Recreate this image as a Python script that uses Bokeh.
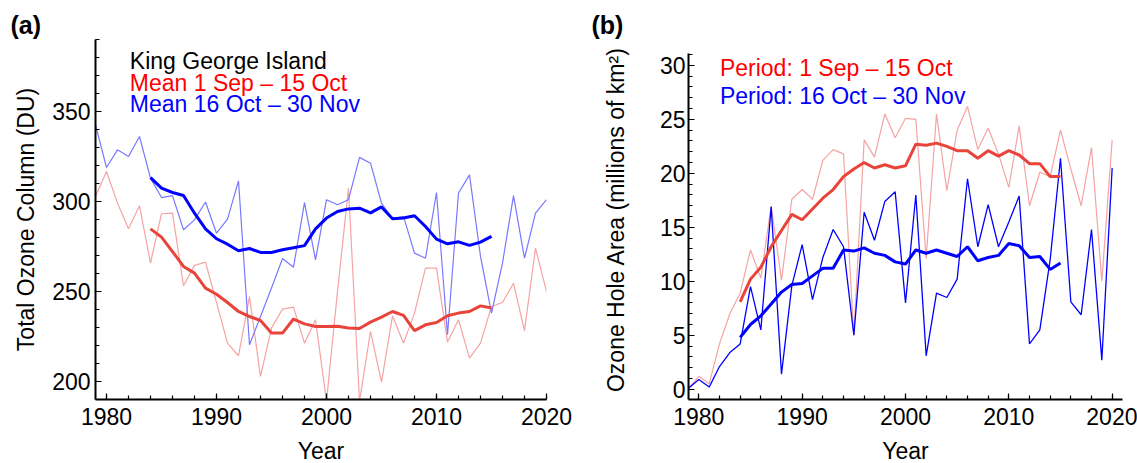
from bokeh.plotting import figure
from bokeh.layouts import row
from bokeh.models import Range1d, FixedTicker, Label
from bokeh.embed import file_html
from bokeh.resources import INLINE

# ---------------- data ----------------
years_all = list(range(1979, 2021))
years_mean = list(range(1984, 2016))

# Panel (a): King George Island total ozone (DU)
ozone_sep_oct = [302.8, 316.7, 299.1, 284.8, 297.6, 265.8, 293.2, 293.5, 253.2, 264.5,
                 266.3, 244.0, 221.3, 214.3, 247.2, 202.8, 229.7, 240.2, 241.3, 221.3,
                 234.3, 189.0, 250.0, 307.4, 189.0, 227.8, 199.7, 236.5, 221.3, 238.0,
                 263.0, 263.0, 221.9, 234.3, 213.0, 221.3, 241.7, 243.9, 254.6, 228.2,
                 274.1, 250.0]
ozone_oct_nov = [342.6, 318.9, 328.7, 325.0, 336.1, 313.0, 302.2, 303.3, 284.3, 289.8,
                 299.7, 282.4, 290.2, 311.5, 220.4, 236.1, 251.9, 268.3, 263.5, 299.4,
                 267.6, 301.0, 298.2, 301.0, 324.5, 321.3, 299.1, 290.4, 291.7, 271.3,
                 268.5, 305.0, 226.0, 304.7, 314.8, 269.5, 238.0, 265.8, 303.3, 268.5,
                 293.5, 301.0]
ozone_sep_oct_mean = [284.8, 280.2, 272.2, 263.9, 260.2, 251.9, 248.5, 243.9, 238.9, 236.1,
                      233.9, 226.9, 226.9, 234.7, 232.0, 230.6, 230.5, 230.7, 229.7, 229.4,
                      233.0, 235.8, 238.9, 236.7, 228.3, 231.5, 232.8, 236.5, 238.0, 238.9,
                      242.0, 240.8]
ozone_oct_nov_mean = [313.3, 307.4, 305.0, 303.3, 293.5, 284.8, 279.3, 276.3, 272.6, 273.9,
                      271.7, 271.7, 273.2, 274.3, 275.5, 284.8, 290.8, 294.4, 295.9, 296.3,
                      293.7, 297.0, 290.4, 290.8, 292.1, 286.1, 279.1, 276.5, 277.6, 275.6,
                      277.4, 280.6]

# Panel (b): ozone hole area (millions of km^2)
area_sep_oct = [0.1, 1.2, 0.5, 4.2, 7.0, 8.9, 12.9, 10.3, 17.0, 10.1,
                17.6, 18.5, 17.6, 21.2, 22.2, 21.8, 5.0, 23.1, 21.5, 25.5,
                23.3, 25.1, 25.0, 12.1, 25.5, 18.4, 24.0, 26.2, 22.2, 24.2,
                21.8, 18.7, 24.4, 17.0, 20.1, 19.7, 24.0, 20.4, 17.0, 22.4,
                10.0, 23.1]
area_oct_nov = [0.1, 0.9, 0.2, 2.1, 3.4, 4.2, 9.5, 5.5, 16.9, 1.4,
                9.6, 13.4, 8.3, 12.2, 14.8, 13.2, 5.0, 16.4, 13.8, 17.4,
                18.3, 8.0, 18.0, 3.1, 8.9, 8.5, 10.2, 19.5, 13.2, 17.1,
                13.2, 15.5, 17.9, 4.2, 5.5, 12.0, 21.4, 8.1, 6.9, 14.8,
                2.7, 20.5]
area_sep_oct_mean = [8.1, 10.2, 11.3, 13.2, 14.7, 16.2, 15.7, 16.7, 17.7, 18.5,
                     19.7, 20.4, 21.0, 20.5, 20.8, 20.5, 20.7, 22.7, 22.6, 22.8,
                     22.5, 22.1, 22.1, 21.4, 22.1, 21.6, 22.1, 21.7, 20.9, 20.9,
                     19.7, 19.7]
area_oct_nov_mean = [4.8, 6.0, 6.8, 7.9, 9.0, 9.7, 9.8, 10.5, 11.2, 11.2,
                     12.9, 12.8, 13.1, 12.6, 12.4, 11.8, 11.6, 12.9, 12.6, 12.9,
                     12.6, 12.3, 13.2, 11.9, 12.2, 12.4, 13.5, 13.3, 12.2, 12.3,
                     11.1, 11.7]

x_major = [1980, 1990, 2000, 2010, 2020]
x_minor = list(range(1980, 2022, 2))
ya_major = [200, 250, 300, 350]
ya_minor = list(range(190, 391, 10))
yb_major = [0, 5, 10, 15, 20, 25, 30]
yb_minor = list(range(0, 32))

FONT = "Liberation Sans"
FS = "23px"

RED_THIN = "#f5a3a3"
RED_THICK = "#e8443a"
BLUE_THIN_A = "#7878ff"
BLUE = "#0000ff"


def style(p, xt, yt, tag, tag_offset):
    p.toolbar_location = None
    p.outline_line_color = None
    p.xgrid.visible = False
    p.ygrid.visible = False
    p.background_fill_color = "white"
    p.border_fill_color = "white"
    p.xaxis.ticker = xt
    p.yaxis.ticker = yt
    for ax in (p.xaxis[0], p.yaxis[0]):
        ax.axis_line_color = "black"
        ax.axis_line_width = 2
        ax.major_tick_line_color = "black"
        ax.minor_tick_line_color = "black"
        ax.major_tick_line_width = 1.2
        ax.minor_tick_line_width = 1.2
        ax.major_tick_in = 6
        ax.major_tick_out = 0
        ax.minor_tick_in = 4
        ax.minor_tick_out = 0
        ax.major_label_text_font = FONT
        ax.major_label_text_font_size = FS
        ax.major_label_text_color = "black"
        ax.axis_label_text_font = FONT
        ax.axis_label_text_font_size = FS
        ax.axis_label_text_font_style = "normal"
        ax.axis_label_text_color = "black"
    p.xaxis.axis_label = "Year"
    p.xaxis.major_label_standoff = 8
    p.xaxis.axis_label_standoff = 10
    p.title.text = tag
    p.title.text_font = FONT
    p.title.text_font_size = "25px"
    p.title.text_font_style = "bold"
    p.title.text_color = "black"
    p.title.align = "left"
    p.title.offset = tag_offset
    p.title.standoff = 2


# ---------------- panel (a) ----------------
pa = figure(frame_width=451, frame_height=360, output_backend="svg", toolbar_location=None,
            x_range=Range1d(1979, 2020), y_range=Range1d(190, 390),
            min_border_left=95, min_border_right=34, min_border_top=39, min_border_bottom=64)
style(pa, FixedTicker(ticks=x_major, minor_ticks=x_minor),
      FixedTicker(ticks=ya_major, minor_ticks=ya_minor), "(a)", -85)
pa.yaxis.axis_label = "Total Ozone Column (DU)"
pa.yaxis.major_label_standoff = 5
pa.yaxis.axis_label_standoff = 10

pa.line(years_all, ozone_sep_oct, line_color=RED_THIN, line_width=1.2)
pa.line(years_all, ozone_oct_nov, line_color=BLUE_THIN_A, line_width=1.2)
pa.line(years_mean, ozone_sep_oct_mean, line_color=RED_THICK, line_width=3)
pa.line(years_mean, ozone_oct_nov_mean, line_color=BLUE, line_width=3)

for txt, col, yv in [("King George Island", "black", 378.0),
                     ("Mean 1 Sep \u2013 15 Oct", "#ff0000", 366.0),
                     ("Mean 16 Oct \u2013 30 Nov", "#0000ff", 353.9)]:
    pa.add_layout(Label(x=1982.12, y=yv, text=txt, text_color=col, text_font=FONT,
                        text_font_size=FS, text_baseline="alphabetic", text_align="left"))

# ---------------- panel (b) ----------------
# frame spans the same height as (a); the y axis line is bounded to the data range
pb = figure(frame_width=434, frame_height=360, output_backend="svg", toolbar_location=None,
            x_range=Range1d(1979, 2021), y_range=Range1d(-0.95, 32.4),
            min_border_left=108, min_border_right=15, min_border_top=39, min_border_bottom=64)
style(pb, FixedTicker(ticks=x_major, minor_ticks=x_minor),
      FixedTicker(ticks=yb_major, minor_ticks=yb_minor), "(b)", -97)
pb.yaxis.bounds = (-0.95, 31.1)
pb.yaxis.axis_label = "Ozone Hole Area (millions of km\u00b2)"
pb.yaxis.major_label_standoff = 3
pb.yaxis.axis_label_standoff = 28

pb.line(years_all, area_sep_oct, line_color=RED_THIN, line_width=1.2)
pb.line(years_all, area_oct_nov, line_color=BLUE, line_width=1.3)
pb.line(years_mean, area_sep_oct_mean, line_color=RED_THICK, line_width=3)
pb.line(years_mean, area_oct_nov_mean, line_color=BLUE, line_width=3)

for txt, col, yv in [("Period: 1 Sep \u2013 15 Oct", "#ff0000", 29.8),
                     ("Period: 16 Oct \u2013 30 Nov", "#0000ff", 27.15)]:
    pb.add_layout(Label(x=1982.04, y=yv, text=txt, text_color=col, text_font=FONT,
                        text_font_size=FS, text_baseline="alphabetic", text_align="left"))

layout = row(pa, pb)
open("out.html", "w").write(file_html(layout, INLINE))
